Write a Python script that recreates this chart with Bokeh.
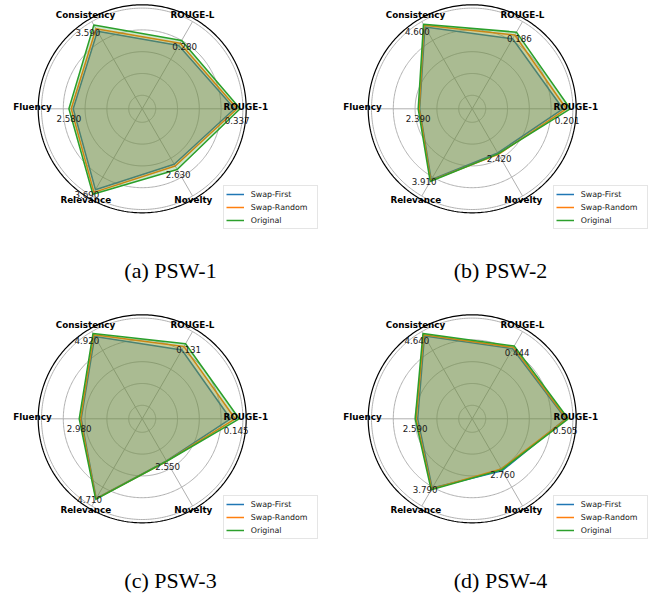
import numpy as np
from bokeh.plotting import figure
from bokeh.models import Range1d, Legend, LegendItem
from bokeh.core.properties import value
from bokeh.embed import file_html
from bokeh.resources import INLINE

# ---------------- data ----------------
categories = ["ROUGE-1", "ROUGE-L", "Consistency", "Fluency", "Relevance", "Novelty"]
series_names = ["Swap-First", "Swap-Random", "Original"]
captions = ["(a) PSW-1", "(b) PSW-2", "(c) PSW-3", "(d) PSW-4"]

psw1_swap_first = [0.318, 0.259, 3.323, 2.429, 3.499, 2.405]
psw1_swap_random = [0.327, 0.269, 3.434, 2.499, 3.611, 2.480]
psw1_original = [0.337, 0.280, 3.590, 2.580, 3.690, 2.630]
psw1_axis_max = [0.358, 0.369, 3.861, 3.661, 3.892, 3.907]

psw2_swap_first = [0.186, 0.170, 4.458, 2.324, 3.817, 2.373]
psw2_swap_random = [0.193, 0.179, 4.553, 2.346, 3.863, 2.443]
psw2_original = [0.201, 0.186, 4.600, 2.390, 3.910, 2.420]
psw2_axis_max = [0.2133, 0.2186, 4.907, 4.603, 4.841, 4.840]

psw3_swap_first = [0.132, 0.120, 4.745, 2.885, 4.659, 2.524]
psw3_swap_random = [0.139, 0.126, 4.845, 2.918, 4.685, 2.550]
psw3_original = [0.145, 0.131, 4.920, 2.980, 4.710, 2.550]
psw3_axis_max = [0.1555, 0.1571, 5.195, 4.919, 5.267, 5.412]

psw4_swap_first = [0.492, 0.428, 4.499, 2.476, 3.698, 2.807]
psw4_swap_random = [0.497, 0.436, 4.569, 2.545, 3.744, 2.713]
psw4_original = [0.505, 0.444, 4.640, 2.590, 3.790, 2.760]
psw4_axis_max = [0.5471, 0.5497, 4.899, 4.726, 4.807, 4.865]

panels = [
    (psw1_swap_first, psw1_swap_random, psw1_original, psw1_axis_max),
    (psw2_swap_first, psw2_swap_random, psw2_original, psw2_axis_max),
    (psw3_swap_first, psw3_swap_random, psw3_original, psw3_axis_max),
    (psw4_swap_first, psw4_swap_random, psw4_original, psw4_axis_max),
]

# ---------------- layout / style ----------------
COLORS = ["#1f77b4", "#ff7f0e", "#2ca02c"]
W, H = 652, 594

R_SPINE = 104.0
RINGS = [13.5, 35.3, 57.1, 78.9, 100.7]
CENTERS = [(141.7, 108.3), (471.7, 108.3), (141.7, 418.3), (471.7, 418.3)]
ANGLES = np.deg2rad([0, 60, 120, 180, 240, 300])
CAT_LABEL_OFF = [(103.6, -1.6), (50.3, -94.0), (-56.7, -94.1),
                 (-109.7, -1.6), (-56.4, 91.0), (51.1, 91.0)]
VAL_LABEL_OFF = [(-3, 12), (3, 6), (-6, 7), (0, 10), (-6, 0), (1, 5)]
CAPTION_OFF = (28.3, 161.7)   # middle of caption
LEGEND_BL = (81.0, 121.0)

p = figure(width=W, height=H, output_backend="svg", toolbar_location=None,
           x_range=Range1d(0, W), y_range=Range1d(H, 0),
           x_axis_type=None, y_axis_type=None, min_border=0)
p.grid.visible = False
p.outline_line_color = None
p.background_fill_color = "white"

t = np.linspace(0, 2 * np.pi, 361)

for k, (sf, sr, orig, amax) in enumerate(panels):
    cx, cy = CENTERS[k]
    # grid rings
    p.multi_line(xs=[list(cx + r * np.cos(t)) for r in RINGS],
                 ys=[list(cy - r * np.sin(t)) for r in RINGS],
                 line_color="#b0b0b0", line_width=1.0)
    # spokes
    p.multi_line(xs=[[cx, cx + RINGS[-1] * np.cos(a)] for a in ANGLES],
                 ys=[[cy, cy - RINGS[-1] * np.sin(a)] for a in ANGLES],
                 line_color="#b0b0b0", line_width=1.0)
    # outer spine
    p.line(cx + R_SPINE * np.cos(t), cy - R_SPINE * np.sin(t),
           line_color="black", line_width=1.2)

    renderers = []
    series = [sf, sr, orig]
    for vals, col in zip(series, COLORS):
        r = np.array(vals) / np.array(amax) * R_SPINE
        xs = cx + r * np.cos(ANGLES)
        ys = cy - r * np.sin(ANGLES)
        xs_c = list(xs) + [xs[0]]
        ys_c = list(ys) + [ys[0]]
        rl = p.line(xs_c, ys_c, line_color=col, line_width=1.5)
        p.patch(xs_c, ys_c, fill_color=col, fill_alpha=0.25, line_color=None)
        renderers.append(rl)

    # value labels (Original)
    r = np.array(orig) / np.array(amax) * R_SPINE
    vx = [cx + ri * np.cos(a) + o[0] for ri, a, o in zip(r, ANGLES, VAL_LABEL_OFF)]
    vy = [cy - ri * np.sin(a) + o[1] for ri, a, o in zip(r, ANGLES, VAL_LABEL_OFF)]
    p.text(x=vx, y=vy, text=[f"{v:.3f}" for v in orig],
           text_font=value("DejaVu Sans"), text_font_size="8.7px",
           text_color="#1a1a1a", text_align="center", text_baseline="middle")

    # category labels
    p.text(x=[cx + o[0] for o in CAT_LABEL_OFF], y=[cy + o[1] for o in CAT_LABEL_OFF],
           text=categories, text_font=value("DejaVu Sans"), text_font_style="bold",
           text_font_size="8.8px", text_color="black",
           text_align="center", text_baseline="middle")

    # caption
    p.text(x=[cx + CAPTION_OFF[0]], y=[cy + CAPTION_OFF[1]], text=[captions[k]],
           text_font=value("Liberation Serif"), text_font_size="22px",
           text_color="black", text_align="center", text_baseline="middle")

    # legend
    lx = cx + LEGEND_BL[0]
    ly = H - (cy + LEGEND_BL[1])
    legend = Legend(items=[LegendItem(label=n, renderers=[rr]) for n, rr in zip(series_names, renderers)],
                    location=(lx, ly), orientation="vertical",
                    label_text_font="DejaVu Sans", label_text_font_size="7.9px",
                    label_text_color="#1a1a1a",
                    glyph_width=18, glyph_height=12, label_height=12, label_width=64,
                    label_standoff=7, spacing=1, padding=2, margin=0,
                    border_line_color="#cccccc", border_line_width=1,
                    background_fill_color="white", background_fill_alpha=0.8)
    p.add_layout(legend, "center")

open("out.html", "w").write(file_html(p, INLINE))
